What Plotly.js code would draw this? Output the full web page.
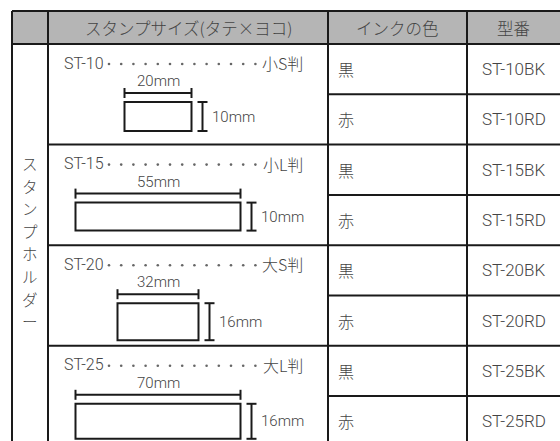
<!DOCTYPE html>
<html><head><meta charset="utf-8">
<script src="https://cdn.plot.ly/plotly-3.0.1.min.js"></script>
<style>html,body{margin:0;padding:0;background:#fff;overflow:hidden}</style>
</head><body><div id="chart" style="width:560px;height:441px"></div>
<script>
// ---- data ----
const headers = ["スタンプサイズ(タテ×ヨコ)", "インクの色", "型番"];
const groupLabel = "スタンプホルダー";
const models = ["ST-10", "ST-15", "ST-20", "ST-25"];
const sizeNames = ["小S判", "小L判", "大S判", "大L判"];
const widthMm = [20, 55, 32, 70];
const heightMm = [10, 10, 16, 16];
const inkColors = ["黒", "赤"];
const inkCodes = ["BK", "RD"];

// ---- drawing geometry (layout, in page pixels) ----
const G = {
  left: 12, c1: 48, c2: 328, c3: 467, right: 560,
  headTop: 11, headBot: 44, rowH: 50.3, bottom: 460,
  boxW: [67, 165, 81, 165], boxH: [29, 28, 37, 35], boxCx: 158,
  dotCount: 13, dotStart: 109, dotStep: 12.2
};
const FONT = "Roboto, Noto Sans CJK JP, sans-serif";
const CJK = "Noto Sans CJK JP, sans-serif";
const TXT = "#444";
const LINE = "#1a1a1a";

const shapes = [];
const ann = [];
function line(x0, y0, x1, y1, w, c) {
  shapes.push({type: "line", xref: "x", yref: "y", x0, y0, x1, y1,
    line: {color: c || LINE, width: w || 2}});
}
function text(t, x, y, anchor, size, fam) {
  ann.push({text: t, x, y, xref: "x", yref: "y", showarrow: false,
    xanchor: anchor || "center", yanchor: "middle",
    font: {family: fam || FONT, size: size || 16, color: TXT, weight: 300}});
}

// header
shapes.push({type: "rect", xref: "x", yref: "y", x0: G.left, x1: G.right + 5,
  y0: G.headTop, y1: G.headBot, fillcolor: "#b5b5b5", line: {width: 0}, layer: "below"});
line(G.left, G.headTop, G.right + 5, G.headTop);
line(G.left, G.headBot, G.right + 5, G.headBot);
[G.left, G.c1, G.c2, G.c3].forEach(x => line(x, G.headTop, x, G.bottom));
const headCenters = [(G.c1 + G.c2) / 2, (G.c2 + G.c3) / 2, (G.c3 + G.right) / 2];
headers.forEach((h, i) => text(h, headCenters[i], (G.headTop + G.headBot) / 2, "center", 16.5, CJK));

// vertical group label
Array.from(groupLabel).forEach((ch, i) =>
  text(ch, (G.left + G.c1) / 2, 163 + i * 22.6, "center", 15.5, CJK));

// rows
const rowTop = r => G.headBot + r * G.rowH;
const dotX = [], dotY = [];
models.forEach((m, g) => {
  const top = rowTop(2 * g);
  if (g > 0) line(G.c1, top, G.c2, top);
  // title line
  const ty = top + 19;
  text(m, 62, ty, "left", 16);
  text(sizeNames[g], 305, ty, "right", 16, CJK);
  for (let i = 0; i < G.dotCount; i++) { dotX.push(G.dotStart + i * G.dotStep); dotY.push(ty + 1); }
  // box
  const w = G.boxW[g], h = G.boxH[g];
  const bl = G.boxCx - w / 2, br = G.boxCx + w / 2;
  const bt = top + 58, bb = bt + h;
  shapes.push({type: "rect", xref: "x", yref: "y", x0: bl, x1: br, y0: bt, y1: bb,
    line: {color: LINE, width: 2}, fillcolor: "rgba(0,0,0,0)"});
  // width dimension
  const dy = top + 49;
  text(widthMm[g] + "mm", G.boxCx, top + 37, "center", 15);
  line(bl, dy, br, dy);
  line(bl, dy - 5, bl, dy + 5);
  line(br, dy - 5, br, dy + 5);
  // height dimension
  const hx = br + 11;
  line(hx, bt, hx, bb);
  line(hx - 5, bt, hx + 5, bt);
  line(hx - 5, bb, hx + 5, bb);
  text(heightMm[g] + "mm", hx + 7, (bt + bb) / 2, "left", 15);
  // ink rows
  inkColors.forEach((ink, k) => {
    const r = 2 * g + k;
    if (r > 0) line(G.c2, rowTop(r), G.right + 5, rowTop(r));
    const cy = rowTop(r) + G.rowH / 2;
    text(ink, 336, cy, "left", 16, CJK);
    text(m + inkCodes[k], headCenters[2], cy, "center", 17);
  });
});

const data = [{x: dotX, y: dotY, type: "scatter", mode: "markers",
  marker: {size: 2.6, color: "#666"}, hoverinfo: "skip", showlegend: false}];

const layout = {
  width: 560, height: 441, margin: {l: 0, r: 0, t: 0, b: 0, pad: 0},
  paper_bgcolor: "#fff", plot_bgcolor: "#fff",
  xaxis: {range: [0, 560], visible: false, fixedrange: true},
  yaxis: {range: [441, 0], visible: false, fixedrange: true},
  shapes, annotations: ann, showlegend: false
};
Plotly.newPlot("chart", data, layout, {staticPlot: true, displayModeBar: false});
</script></body></html>
